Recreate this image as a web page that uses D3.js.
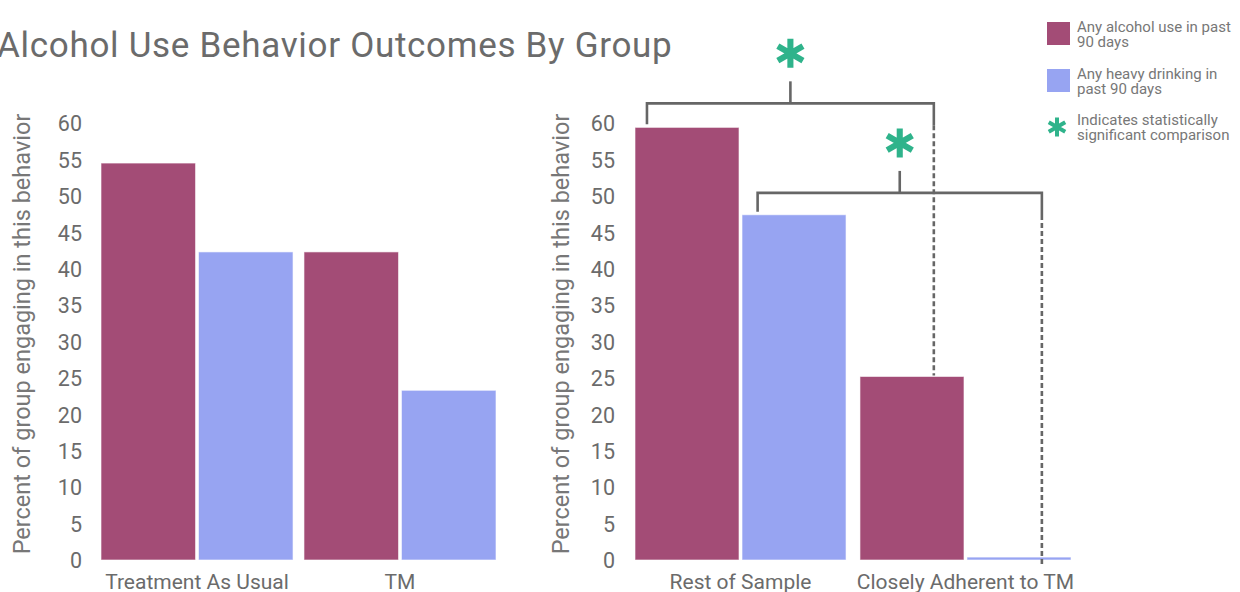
<!DOCTYPE html>
<html>
<head>
<meta charset="utf-8">
<script src="https://cdn.jsdelivr.net/npm/d3@7"></script>
<style>
  html, body { margin: 0; padding: 0; background: #fff; }
  svg { display: block; font-family: Roboto, "Noto Sans", sans-serif; }
</style>
</head>
<body>
<div id="chart"></div>
<script>
(function() {
  'use strict';

  // data
  var series = ['Any alcohol use in past 90 days', 'Any heavy drinking in past 90 days'];
  var leftGroups = ['Treatment As Usual', 'TM'];
  var leftAlcohol = [54.5, 42.3];
  var leftHeavy = [42.3, 23.3];
  var rightGroups = ['Rest of Sample', 'Closely Adherent to TM'];
  var rightAlcohol = [59.4, 25.2];
  var rightHeavy = [47.4, 0.4];
  var yTicks = [0, 5, 10, 15, 20, 25, 30, 35, 40, 45, 50, 55, 60];

  var colors = { alcohol: '#a34c76', heavy: '#97a4f2' };
  var green = '#2fb38b';
  var textGray = '#6b6b6b';
  var lineGray = '#666';

  var width = 1240, height = 592;

  var svg = d3.select('#chart').append('svg')
    .attr('width', width)
    .attr('height', height);

  // title
  svg.append('text')
    .attr('x', -3)
    .attr('y', 57)
    .attr('fill', textGray)
    .attr('font-size', '35px')
    .attr('letter-spacing', '0.7px')
    .text('Alcohol Use Behavior Outcomes By Group');

  var y = d3.scaleLinear().domain([0, 60]).range([560, 123]);

  function asterisk(cx, cy, r) {
    var size = Math.pow(r / 0.59436, 2);
    svg.append('path')
      .attr('transform', 'translate(' + cx + ',' + cy + ')')
      .attr('d', d3.symbol(d3.symbolAsterisk, size)())
      .attr('stroke', green)
      .attr('stroke-width', r * 0.42)
      .attr('fill', 'none');
  }

  function drawPanel(opts) {
    var g = svg.append('g');
    var x0 = d3.scaleBand().domain(opts.groups).range(opts.range).paddingInner(opts.pad).paddingOuter(0);
    var x1 = d3.scaleBand().domain(['alcohol', 'heavy']).range([0, x0.bandwidth()]).paddingInner(opts.subPad);

    var rows = opts.groups.map(function(name, i) {
      return { name: name, alcohol: opts.alcohol[i], heavy: opts.heavy[i] };
    });

    // y axis labels
    var axis = d3.axisLeft(y).tickValues(yTicks).tickSize(0).tickPadding(0);
    var ag = g.append('g')
      .attr('transform', 'translate(' + opts.axisX + ',0)')
      .call(axis);
    ag.select('.domain').remove();
    ag.selectAll('text')
      .attr('fill', textGray)
      .attr('font-size', '21.5px')
      .attr('font-family', 'Roboto, sans-serif')
      .attr('dy', '0.36em');

    // y title
    g.append('text')
      .attr('transform', 'translate(' + opts.titleX + ',334) rotate(-90)')
      .attr('text-anchor', 'middle')
      .attr('fill', '#777')
      .attr('font-size', '23.5px')
      .text('Percent of group engaging in this behavior');

    // bars
    var grp = g.selectAll('.grp').data(rows).enter().append('g')
      .attr('transform', function(d) { return 'translate(' + x0(d.name) + ',0)'; });
    grp.selectAll('rect').data(function(d) {
      return ['alcohol', 'heavy'].map(function(k) { return { key: k, value: d[k] }; });
    }).enter().append('rect')
      .attr('x', function(d) { return x1(d.key); })
      .attr('y', function(d) { return y(d.value); })
      .attr('width', x1.bandwidth())
      .attr('height', function(d) { return y(0) - y(d.value); })
      .attr('fill', function(d) { return colors[d.key]; })
      .attr('stroke', 'rgba(255,255,255,0.6)')
      .attr('stroke-width', 1);

    // category labels
    g.selectAll('.cat').data(opts.groups).enter().append('text')
      .attr('x', function(d) { return x0(d) + x0.bandwidth() / 2; })
      .attr('y', 589)
      .attr('text-anchor', 'middle')
      .attr('fill', textGray)
      .attr('font-size', '21px')
      .text(function(d) { return d; });

    return { x0: x0, x1: x1, g: g };
  }

  drawPanel({
    groups: leftGroups, alcohol: leftAlcohol, heavy: leftHeavy,
    range: [101, 496], pad: 0.054, subPad: 0.03, axisX: 82, titleX: 30
  });

  var right = drawPanel({
    groups: rightGroups, alcohol: rightAlcohol, heavy: rightHeavy,
    range: [635, 1071], pad: 0.062, subPad: 0.028, axisX: 615, titleX: 569
  });

  // significance brackets
  function bracket(fromGroup, fromKey, fromVal, toGroup, toKey, toVal, level, fa, fb, dashEnd) {
    var x0 = right.x0, x1 = right.x1, bw = x1.bandwidth();
    var xa = x0(fromGroup) + x1(fromKey) + bw * fa;
    var xb = x0(toGroup) + x1(toKey) + bw * fb;
    var ly = y(level);
    var bg = svg.append('g').attr('stroke', lineGray).attr('stroke-width', 2.6).attr('fill', 'none');
    bg.append('path').attr('d',
      'M' + xa + ',' + (y(fromVal) - 3) + 'V' + ly + 'H' + xb + 'V' + (ly + 22));
    bg.append('line')
      .attr('x1', xb).attr('x2', xb)
      .attr('y1', ly + 22).attr('y2', dashEnd)
      .attr('stroke-dasharray', '5,3');
    var mx = (xa + xb) / 2;
    bg.append('line').attr('x1', mx).attr('x2', mx).attr('y1', ly).attr('y2', ly - 22);
    asterisk(mx, ly - 50, 14.5);
  }

  bracket(rightGroups[0], 'alcohol', rightAlcohol[0], rightGroups[1], 'alcohol', rightAlcohol[1],
    62.7, 0.115, 0.71, y(rightAlcohol[1]) - 1);
  bracket(rightGroups[0], 'heavy', rightHeavy[0], rightGroups[1], 'heavy', rightHeavy[1],
    50.4, 0.15, 0.72, y(0) + 6);

  // legend
  var lg = svg.append('g').attr('transform', 'translate(1047,0)');
  var legendItems = [
    { key: 'alcohol', lines: ['Any alcohol use in past', '90 days'], top: 22 },
    { key: 'heavy', lines: ['Any heavy drinking in', 'past 90 days'], top: 69 }
  ];
  legendItems.forEach(function(it) {
    lg.append('rect')
      .attr('x', 0).attr('y', it.top)
      .attr('width', 23).attr('height', 23)
      .attr('fill', colors[it.key]);
    it.lines.forEach(function(t, i) {
      lg.append('text')
        .attr('x', 30).attr('y', it.top + 10 + i * 15)
        .attr('fill', '#777')
        .attr('font-size', '15px')
        .text(t);
    });
  });
  asterisk(1057, 127, 9.5);
  ['Indicates statistically', 'significant comparison'].forEach(function(t, i) {
    lg.append('text')
      .attr('x', 30).attr('y', 125 + i * 15)
      .attr('fill', '#777')
      .attr('font-size', '15px')
      .text(t);
  });
})();
</script>
</body>
</html>
